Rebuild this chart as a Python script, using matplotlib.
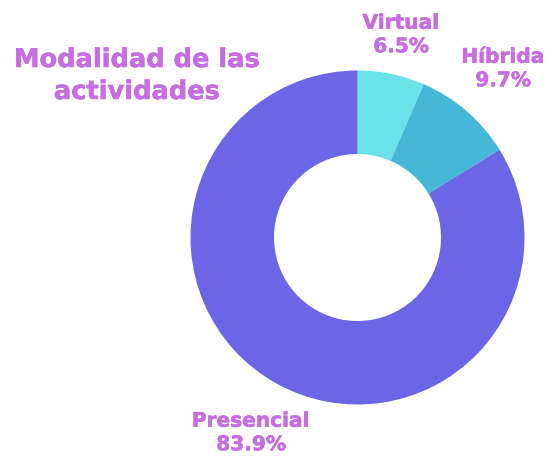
import matplotlib
matplotlib.use("Agg")
import matplotlib.pyplot as plt
import matplotlib.patheffects as pe

categories = ["Virtual", "Híbrida", "Presencial"]
shares = [6.5, 9.7, 83.9]
colors = ["#6ae3e8", "#45b8d8", "#6c66e6"]
title = "Modalidad de las\nactividades"
text_color = "#c66de0"

W, H = 548, 459
fig = plt.figure(figsize=(W / 100, H / 100), dpi=100)

# donut placed in pixel terms: centre (357.5, 237.5), outer radius 167
cx, cy, r = 357.5, 237.5, 167
ax = fig.add_axes([(cx - r) / W, (H - cy - r) / H, 2 * r / W, 2 * r / H])
ax.pie(shares, colors=colors, startangle=90, counterclock=False,
       radius=1.0, wedgeprops=dict(width=0.5, edgecolor="none"))
ax.set_xlim(-1, 1)
ax.set_ylim(-1, 1)
ax.set_aspect("equal")
ax.axis("off")

heavy = [pe.withStroke(linewidth=0.4, foreground=text_color)]
font = dict(family=["DejaVu Sans"], fontweight="bold", color=text_color,
            path_effects=heavy)

fig.text(137 / W, 1 - 76 / H, title, ha="center", va="center",
         fontsize=18.5, linespacing=1.3, **font)

label_pos = {
    "Virtual": (401, 35),
    "Híbrida": (503, 69),
    "Presencial": (251, 433),
}
for name, val in zip(categories, shares):
    x, y = label_pos[name]
    fig.text(x / W, 1 - y / H, f"{name}\n{val}%", ha="center", va="center",
             fontsize=14.5, linespacing=1.3, **font)

fig.savefig("out.png", dpi=100, facecolor="white")
